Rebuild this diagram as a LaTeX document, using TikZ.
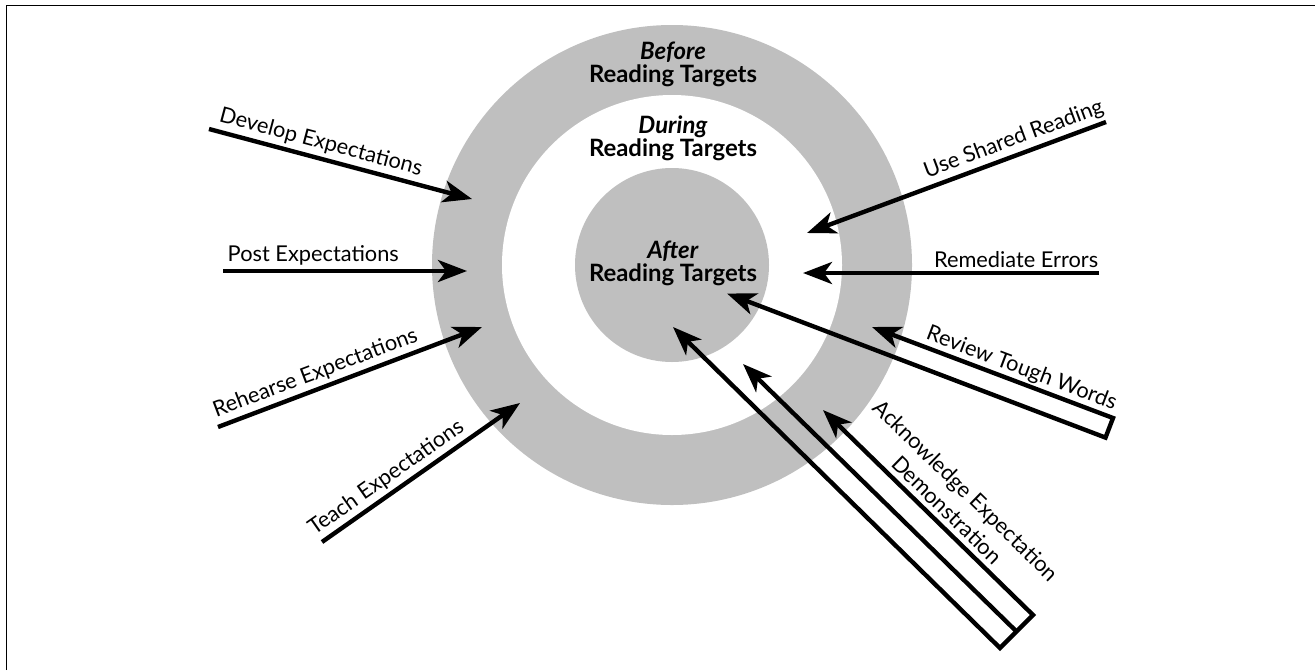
\documentclass[tikz,border=0pt]{standalone}
\usepackage{fontspec}
\setmainfont{Lato}
\usetikzlibrary{arrows.meta}
\tikzset{
  ring/.style={fill=black!25},
  arr/.style={line width=2.5pt, -{Stealth[length=5.8mm,width=4.4mm,inset=1.6mm]}},
  arrboth/.style={line width=2.5pt, miter limit=20,
    {Stealth[length=5.8mm,width=4.4mm,inset=1.6mm]}-{Stealth[length=5.8mm,width=4.4mm,inset=1.6mm]}},
  lbl/.style={font=\fontsize{12.4}{14.5}\selectfont, inner sep=2pt, sloped, above},
  tgt/.style={font=\fontsize{13.6}{13.2}\selectfont\bfseries, align=center}
}
\begin{document}
\begin{tikzpicture}[x=0.02cm,y=-0.02cm]
  \useasboundingbox (0,0) rectangle (1315,670);
  \draw[line width=0.85pt] (6.5,670) -- (6.5,5.5) -- (1315,5.5);
  % the target
  \coordinate (c) at (672,265);
  \fill[ring] (c) circle (240);
  \fill[white] (c) circle (170);
  \fill[ring] (c) circle (97);
  \node[tgt] (before) at (673,64) {\textit{Before}\\Reading Targets};
  \node[tgt] (during) at (673,138) {\textit{During}\\Reading Targets};
  \node[tgt] (after) at (673,263) {\textit{After}\\Reading Targets};
  % end points of the arrows
  \coordinate (dev1) at (209,129);   \coordinate (dev2) at (472,199);
  \coordinate (post1) at (223,271);  \coordinate (post2) at (467,271);
  \coordinate (reh1) at (218,427);   \coordinate (reh2) at (482,327);
  \coordinate (teach1) at (322,542); \coordinate (teach2) at (520,403);
  \coordinate (use1) at (1106,122);  \coordinate (use2) at (807,233);
  \coordinate (rem1) at (1099,273);  \coordinate (rem2) at (803,273);
  \coordinate (rev1) at (1113,418);  \coordinate (rev2) at (1105.5,437.6);
  \coordinate (rev3) at (872,327);   \coordinate (rev4) at (727,293.5);
  \coordinate (ack1) at (1000,648);  \coordinate (ack2) at (1016.5,631.5);
  \coordinate (ack3) at (1033,615);  \coordinate (ack4) at (673,327);
  \coordinate (ack5) at (743,364);   \coordinate (ack6) at (823,410);
  % left side
  \draw[arr] (dev1) -- (dev2) node[lbl,pos=0.41] {Develop Expectations};
  \draw[arr] (post1) -- (post2) node[lbl,pos=0.37] {Post Expectations};
  \draw[arr] (reh1) -- (reh2) node[lbl,pos=0.39] {Rehearse Expectations};
  \draw[arr] (teach1) -- (teach2) node[lbl,pos=0.37] {Teach Expectations};
  % right side
  \draw[arr] (use1) -- (use2) node[lbl,pos=0.29] {Use Shared Reading};
  \draw[arr] (rem1) -- (rem2) node[lbl,pos=0.28] {Remediate Errors};
  \draw[arrboth] (rev3) -- (rev1) -- (rev2) -- (rev4);
  \path (rev1) -- (rev3) node[lbl,pos=0.4] {Review Tough Words};
  \draw[arrboth] (ack4) -- (ack1) -- (ack3) -- (ack6);
  \draw[arr] (ack2) -- (ack5);
  \path (ack3) -- (ack6) node[lbl,pos=0.46,inner sep=4pt,align=center,
    font=\fontsize{12.4}{15.5}\selectfont] {Acknowledge Expectation\\Demonstration};
\end{tikzpicture}
\end{document}
